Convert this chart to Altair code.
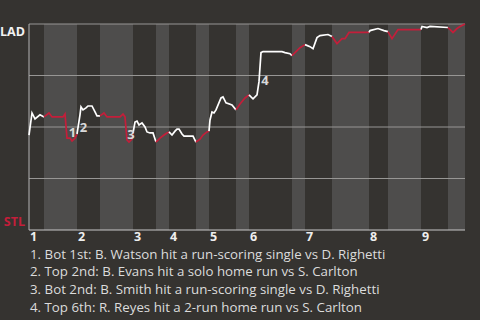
import altair as alt
import pandas as pd

# ---- data ----
# half-inning boundaries on the game-progress axis (top 1st, bot 1st, top 2nd, ...)
half_bounds = [0, 15, 48, 71, 104, 127, 140, 167, 180, 207, 220, 263, 276, 303, 340, 359, 392, 419, 436]
innings = ["1", "2", "3", "4", "5", "6", "7", "8", "9"]

# win probability for LAD (%) along game progress
wp_x = [0, 3, 6, 11, 15,
        20, 23, 34, 36, 38, 41, 43, 46, 48,
        51, 52, 54, 57, 59, 63, 66, 68, 71,
        75, 78, 91, 94, 96, 98, 100, 103, 104,
        106, 108, 110, 113, 116, 118, 121, 124, 127,
        131, 135, 138, 140,
        143, 146, 148, 150, 153, 155, 164, 167,
        171, 174, 178, 180,
        181, 183, 185, 187, 192, 194, 197, 203, 207,
        211, 216, 220,
        222, 224, 228, 230, 232, 234, 253, 256, 261, 263,
        266, 271, 276,
        281, 284, 288, 291, 299, 303,
        308, 313, 316, 320, 340,
        341, 349, 355, 359,
        363, 369, 392,
        393, 398, 401, 419,
        424, 428, 431, 436]
wp_y = [46.1, 56.8, 53.9, 55.9, 54.9,
        56.8, 54.9, 54.9, 56.3, 44.6, 44.6, 43.2, 44.6, 46.6,
        55.9, 59.8, 58.3, 59.3, 60.2, 60.2, 57.3, 55.4, 55.4,
        56.8, 54.9, 54.9, 56.3, 54.9, 43.7, 42.7, 44.1, 47.1,
        52.4, 52.9, 51.0, 52.0, 50.0, 47.6, 47.1, 47.1, 42.7,
        44.6, 46.1, 47.1, 47.6,
        46.1, 48.0, 49.0, 49.0, 46.6, 45.6, 45.6, 42.7,
        44.1, 46.1, 47.6, 48.0,
        53.4, 57.3, 56.8, 58.3, 64.1, 64.6, 61.7, 60.7, 58.3,
        61.2, 64.1, 65.6,
        64.6, 63.7, 65.6, 72.0, 86.1, 86.6, 86.6, 86.1, 85.6, 84.6,
        86.1, 88.5, 90.0,
        89.0, 88.0, 93.4, 94.4, 94.9, 93.9,
        90.5, 92.9, 92.9, 95.9, 95.9,
        96.8, 97.8, 96.8, 96.3,
        92.9, 97.3, 97.3,
        98.8, 98.3, 98.8, 98.3,
        95.9, 97.8, 98.8, 100.0]

ann_labels = ["1", "2", "3", "4"]
ann_x = [43.5, 54.5, 102, 236]
ann_y = [47.1, 49.5, 45.9, 72.2]

notes = [
    "1. Bot 1st: B. Watson hit a run-scoring single vs D. Righetti",
    "2. Top 2nd: B. Evans hit a solo home run vs S. Carlton",
    "3. Bot 2nd: B. Smith hit a run-scoring single vs D. Righetti",
    "4. Top 6th: R. Reyes hit a 2-run home run vs S. Carlton",
]
grid_values = [25, 50, 75, 100]

# ---- tables ----
bands = pd.DataFrame({
    "start": half_bounds[:-1],
    "end": half_bounds[1:],
    "half": ["top" if i % 2 == 0 else "bot" for i in range(len(half_bounds) - 1)],
})
rows = []
for i in range(len(half_bounds) - 1):
    lo, hi = half_bounds[i], half_bounds[i + 1]
    for j, (x, y) in enumerate(zip(wp_x, wp_y)):
        if lo <= x <= hi:
            rows.append({"seg": i, "half": "top" if i % 2 == 0 else "bot",
                         "x": x, "wp": y, "ord": j})
line_df = pd.DataFrame(rows)
inn_df = pd.DataFrame({"inning": innings, "start": half_bounds[0::2][:len(innings)]})
ann_df = pd.DataFrame({"label": ann_labels, "x": ann_x, "wp": ann_y})
notes_df = pd.DataFrame({"note": notes, "n": list(range(len(notes)))})
grid_df = pd.DataFrame({"g": grid_values})
edge_df = pd.DataFrame({"x0": [0], "x1": [436], "y0": [0], "y1": [100]})

W, H = 436, 206
FONT = "Open Sans"
RED = "#c41e3a"
xs = alt.Scale(domain=[0, 436], nice=False, zero=False)
ys = alt.Scale(domain=[0, 100], nice=False)

band_layer = alt.Chart(bands).mark_rect().encode(
    x=alt.X("start:Q", scale=xs, axis=None),
    x2="end:Q",
    y=alt.value(0),
    y2=alt.value(H),
    fill=alt.Fill("half:N", scale=alt.Scale(domain=["top", "bot"], range=["#353330", "#4e4d4c"]), legend=None),
)

grid_layer = alt.Chart(grid_df).mark_rule(color="#979694", strokeWidth=1).encode(
    y=alt.Y("g:Q", scale=ys, axis=None),
    x=alt.value(0),
    x2=alt.value(W),
)

left_line = alt.Chart(edge_df).mark_rule(color="#b4b4b4", strokeWidth=1).encode(
    x=alt.value(0),
    y=alt.value(0),
    y2=alt.value(H),
)
bottom_line = alt.Chart(edge_df).mark_rule(color="#c8c8c8", strokeWidth=1.2).encode(
    y=alt.value(H),
    x=alt.value(0),
    x2=alt.value(W),
)

wp_line = alt.Chart(line_df).mark_line(strokeWidth=1.7).encode(
    x=alt.X("x:Q", scale=xs, axis=None),
    y=alt.Y("wp:Q", scale=ys, axis=None),
    detail="seg:N",
    order="ord:Q",
    stroke=alt.Stroke("half:N", scale=alt.Scale(domain=["top", "bot"], range=["#ffffff", RED]), legend=None),
)

ann_layer = alt.Chart(ann_df).mark_text(font=FONT, fontSize=13, fontWeight="bold", color="#d9d9d9",
                                        align="center", baseline="middle").encode(
    x=alt.X("x:Q", scale=xs, axis=None),
    y=alt.Y("wp:Q", scale=ys, axis=None),
    text="label:N",
)

lad = alt.Chart(edge_df).mark_text(text="LAD", font=FONT, fontSize=12.5, fontWeight="bold", color="#f2f2f2",
                                   align="right", baseline="top", dx=-4, dy=2).encode(
    x=alt.value(0), y=alt.value(0))
stl = alt.Chart(edge_df).mark_text(text="STL", font=FONT, fontSize=12.5, fontWeight="bold", color=RED,
                                   align="right", baseline="alphabetic", dx=-4, dy=-4).encode(
    x=alt.value(0), y=alt.value(H))

inn_layer = alt.Chart(inn_df).mark_text(font=FONT, fontSize=12.5, fontWeight="bold", color="#eeeeee",
                                        align="left", baseline="middle", dx=1).encode(
    x=alt.X("start:Q", scale=xs, axis=None),
    y=alt.value(H + 7),
    text="inning:N",
)

note_layers = []
for k in range(len(notes)):
    note_layers.append(
        alt.Chart(notes_df).transform_filter(alt.datum.n == k).mark_text(
            font=FONT, fontSize=13.3, color="#dcdcdc", align="left", baseline="middle"
        ).encode(x=alt.value(1), y=alt.value(H + 24.5 + 17.8 * k), text="note:N")
    )

chart = alt.layer(
    band_layer, grid_layer, left_line, bottom_line, wp_line, ann_layer, lad, stl, inn_layer, *note_layers
).properties(
    width=W, height=H,
    background="#353330",
    autosize=alt.AutoSizeParams(type="none"),
    padding={"left": 29, "top": 24, "right": 15, "bottom": 90},
).configure_view(stroke=None)

chart.save("out.html", embed_options={"renderer": "svg", "actions": False})
